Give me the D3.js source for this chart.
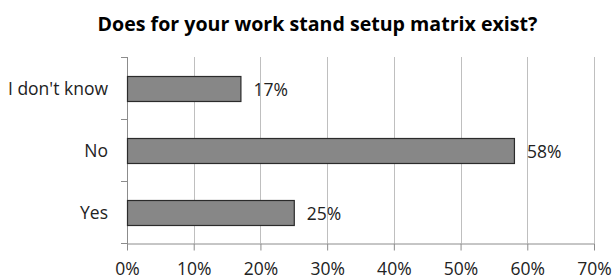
<!DOCTYPE html>
<html><head><meta charset="utf-8">
<script src="https://cdn.jsdelivr.net/npm/d3@7"></script>
<style>
html,body{margin:0;padding:0;background:#fff;}
svg{display:block;}
text{font-family:"Open Sans",sans-serif;}
</style></head>
<body><svg id="c" width="613" height="280"></svg>
<script>
const title = "Does for your work stand setup matrix exist?";
const categories = ["I don't know", "No", "Yes"];
const values = [0.17, 0.58, 0.25];
const valueLabels = ["17%", "58%", "25%"];
const xTicks = [0, 0.1, 0.2, 0.3, 0.4, 0.5, 0.6, 0.7];

(function () {
const svg = d3.select("#c");
const pLeft = 127, pRight = 594, pTop = 57, pBottom = 243;
const fs = "17.5px";

const x = d3.scaleLinear().domain([0, 0.7]).range([pLeft, pRight]);
const y = d3.scaleBand().domain(categories).range([pTop, pBottom]).paddingInner(0.6).paddingOuter(0.3);

// gridlines
svg.append("g").selectAll("line").data(xTicks.slice(1)).join("line")
  .attr("x1", d => Math.round(x(d)) + 0.5).attr("x2", d => Math.round(x(d)) + 0.5)
  .attr("y1", pTop).attr("y2", pBottom)
  .attr("stroke", "#bfbfbf").attr("stroke-width", 1);

// x axis
const xa = svg.append("g").attr("transform", `translate(0,${pBottom + 0.5})`)
  .call(d3.axisBottom(x).tickValues(xTicks).tickFormat(d3.format(".0%")).tickSize(7).tickSizeOuter(0));
xa.select(".domain").attr("stroke", "#8c8c8c");
xa.selectAll(".tick line").attr("stroke", "#8c8c8c");
xa.selectAll(".tick text").attr("font-size", fs).attr("fill", "#222").attr("dy", "1.25em")
  .attr("font-family", "Open Sans");

// y axis line
svg.append("line").attr("x1", pLeft + 0.5).attr("x2", pLeft + 0.5).attr("y1", pTop).attr("y2", pBottom + 7)
  .attr("stroke", "#8c8c8c");
const bounds = [pTop, pTop + y.step(), pTop + 2 * y.step(), pBottom];
svg.append("g").selectAll("line").data(bounds).join("line")
  .attr("x1", pLeft - 6).attr("x2", pLeft)
  .attr("y1", d => Math.round(d) + 0.5).attr("y2", d => Math.round(d) + 0.5)
  .attr("stroke", "#8c8c8c");

// y labels
svg.append("g").selectAll("text").data(categories).join("text")
  .attr("x", 108).attr("y", d => y(d) + y.bandwidth() / 2)
  .attr("text-anchor", "end").attr("dominant-baseline", "central")
  .attr("font-size", fs).attr("fill", "#222").text(d => d);

// bars
svg.append("g").selectAll("rect").data(categories).join("rect")
  .attr("x", pLeft + 0.5).attr("y", d => Math.round(y(d)) + 0.5)
  .attr("width", (d, i) => x(values[i]) - pLeft)
  .attr("height", Math.round(y.bandwidth()))
  .attr("fill", "#878787").attr("stroke", "#2b2b2b").attr("stroke-width", 1.2);

// value labels
svg.append("g").selectAll("text").data(categories).join("text")
  .attr("x", (d, i) => x(values[i]) + 13).attr("y", d => y(d) + y.bandwidth() / 2 + 1)
  .attr("dominant-baseline", "central")
  .attr("font-size", fs).attr("fill", "#222").text((d, i) => valueLabels[i]);

// title
svg.append("text").attr("x", 317.5).attr("y", 31).attr("text-anchor", "middle")
  .attr("font-size", "19.6px").attr("font-weight", "bold").attr("fill", "#000").text(title);
})();
</script></body></html>
